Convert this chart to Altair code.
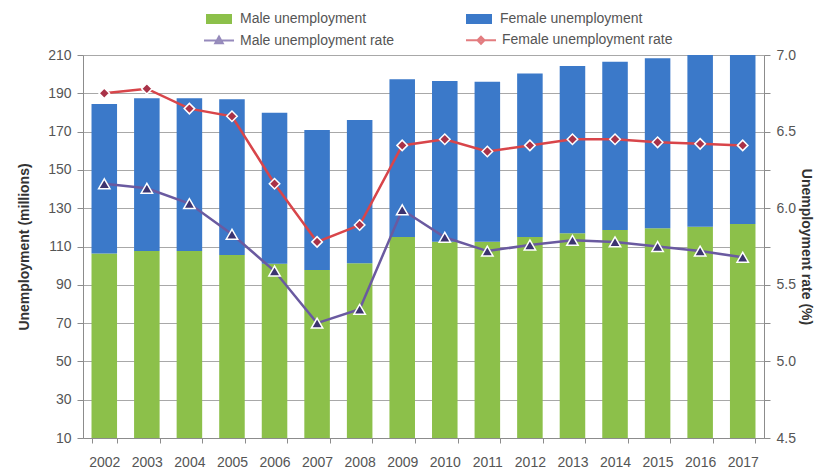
import altair as alt
import pandas as pd

years = [str(y) for y in range(2002, 2018)]
male_unemp = [106.4, 107.6, 107.6, 105.6, 101.0, 97.7, 101.2, 115.0, 112.5, 112.5,
              115.0, 116.9, 118.6, 119.5, 120.3, 121.7]
female_unemp = [78.0, 79.8, 79.8, 81.3, 78.9, 73.1, 74.8, 82.3, 83.9, 83.5,
                85.3, 87.4, 87.9, 88.8, 90.2, 90.3]
male_rate = [6.16, 6.13, 6.03, 5.83, 5.59, 5.25, 5.34, 5.99, 5.81, 5.72,
             5.76, 5.79, 5.78, 5.75, 5.72, 5.68]
female_rate = [6.75, 6.78, 6.65, 6.60, 6.16, 5.78, 5.89, 6.41, 6.45, 6.37,
               6.41, 6.45, 6.45, 6.43, 6.42, 6.41]

bar_names = ["Male unemployment", "Female unemployment"]
rate_names = ["Male unemployment rate", "Female unemployment rate"]
bar_colors = ["#8CC04A", "#3B79C9"]
line_colors = ["#6A5AA0", "#D8454A"]
marker_fills = ["#3C3470", "#A93248"]

rows = []
for i, y in enumerate(years):
    rows.append({"year": y, "series": bar_names[0], "value": male_unemp[i], "ord": 0})
    rows.append({"year": y, "series": bar_names[1], "value": female_unemp[i], "ord": 1})
bars_df = pd.DataFrame(rows)

rrows = []
for i, y in enumerate(years):
    rrows.append({"year": y, "series": rate_names[0], "rate": male_rate[i]})
    rrows.append({"year": y, "series": rate_names[1], "rate": female_rate[i]})
rates_df = pd.DataFrame(rrows)

FONT = "Liberation Sans"
LABEL_COLOR = "#555555"
AXIS_COLOR = "#8c8c8c"

x_enc = alt.X(
    "year:N",
    sort=years,
    scale=alt.Scale(paddingInner=0.4, paddingOuter=0.2),
    axis=alt.Axis(title=None, labelAngle=0, tickBand="extent", labelFontSize=14,
                  labelColor=LABEL_COLOR, labelFont=FONT, domainColor=AXIS_COLOR,
                  tickColor=AXIS_COLOR, tickSize=5, labelPadding=12),
)

bar = alt.Chart(bars_df).mark_bar(clip=True).encode(
    x=x_enc,
    y=alt.Y("value:Q", stack="zero",
            scale=alt.Scale(domain=[10, 210], nice=False, zero=False),
            axis=alt.Axis(values=list(range(10, 211, 20)),
                          title="Unemployment (millions)", titleFontSize=14,
                          titleFont=FONT, titleFontWeight="bold", titleColor="#333333",
                          labelFontSize=14, labelFont=FONT, labelColor=LABEL_COLOR,
                          grid=True, gridColor="#a8a8a8", gridWidth=1.2,
                          domainColor=AXIS_COLOR, tickColor=AXIS_COLOR, tickSize=6,
                          labelPadding=6, titlePadding=16)),
    color=alt.Color("series:N",
                    scale=alt.Scale(domain=bar_names, range=bar_colors),
                    legend=alt.Legend(title=None, orient="none", legendX=129, legendY=-43,
                                      columns=2, columnPadding=99,
                                      labelFontSize=14, labelFont=FONT, labelLimit=300,
                                      labelColor=LABEL_COLOR, labelOffset=14,
                                      symbolSize=100, symbolType="M-2.6,-1H2.6V1H-2.6Z",
                                      symbolStrokeWidth=0)),
    order=alt.Order("ord:Q"),
)

rate_scale = alt.Scale(domain=[4.5, 7.0], nice=False, zero=False)
rate_axis = alt.Axis(orient="right",
                     values=[4.5, 4.75, 5.0, 5.25, 5.5, 5.75, 6.0, 6.25, 6.5, 6.75, 7.0],
                     labelExpr="(round(datum.value*100) % 50 == 0) ? format(datum.value, '.1f') : ''",
                     title="Unemployment rate (%)", titleFontSize=14,
                     titleFont=FONT, titleFontWeight="bold", titleColor="#333333",
                     labelFontSize=14, labelFont=FONT, labelColor=LABEL_COLOR,
                     grid=False, domainColor=AXIS_COLOR, tickColor=AXIS_COLOR,
                     tickSize=6, labelPadding=6, titlePadding=3)
y_rate = alt.Y("rate:Q", scale=rate_scale, axis=rate_axis)

base_rates = alt.Chart(rates_df)

layers = []
shapes = ["triangle-up", "diamond"]
for k in range(2):
    sel = base_rates.transform_filter(alt.datum.series == rate_names[k])
    layers.append(sel.mark_line(strokeWidth=2.5, color=line_colors[k]).encode(
        x=x_enc, y=y_rate))
for k in range(2):
    sel = base_rates.transform_filter(alt.datum.series == rate_names[k])
    layers.append(sel.mark_point(filled=True, size=130 if k == 0 else 110,
                                 strokeWidth=1.5, stroke="white",
                                 fill=marker_fills[k], shape=shapes[k],
                                 opacity=1).encode(x=x_enc, y=y_rate))

# legend-only layer (no rows drawn) for the rate series
legend_layer = base_rates.transform_filter("false").mark_point(filled=True).encode(
    x=x_enc, y=y_rate,
    stroke=alt.Stroke("series:N", scale=alt.Scale(domain=rate_names, range=line_colors),
                      legend=alt.Legend(title=None, orient="none", legendX=129, legendY=-22,
                                        columns=2, columnPadding=67,
                                        labelFontSize=14, labelFont=FONT, labelLimit=300,
                                        labelColor=LABEL_COLOR, labelOffset=14,
                                        symbolSize=100, symbolStrokeWidth=2)),
    fill=alt.Fill("series:N", scale=alt.Scale(domain=rate_names, range=marker_fills)),
    shape=alt.Shape("series:N", scale=alt.Scale(
        domain=rate_names,
        range=["M-3,0H3M0,-0.8L0.75,0.55H-0.75Z", "M-3,0H3M0,-0.7L0.7,0L0,0.7L-0.7,0Z"])),
)
layers.append(legend_layer)

rate_layer = alt.layer(*layers)

chart = alt.layer(bar, rate_layer).resolve_scale(y="independent").properties(
    width=681, height=383,
    autosize=alt.AutoSizeParams(type="none"),
    padding={"left": 75, "top": 47, "right": 55, "bottom": 30},
).configure_view(stroke=None).configure(background="white")

chart.save("out.html", embed_options={"renderer": "svg", "actions": False})
